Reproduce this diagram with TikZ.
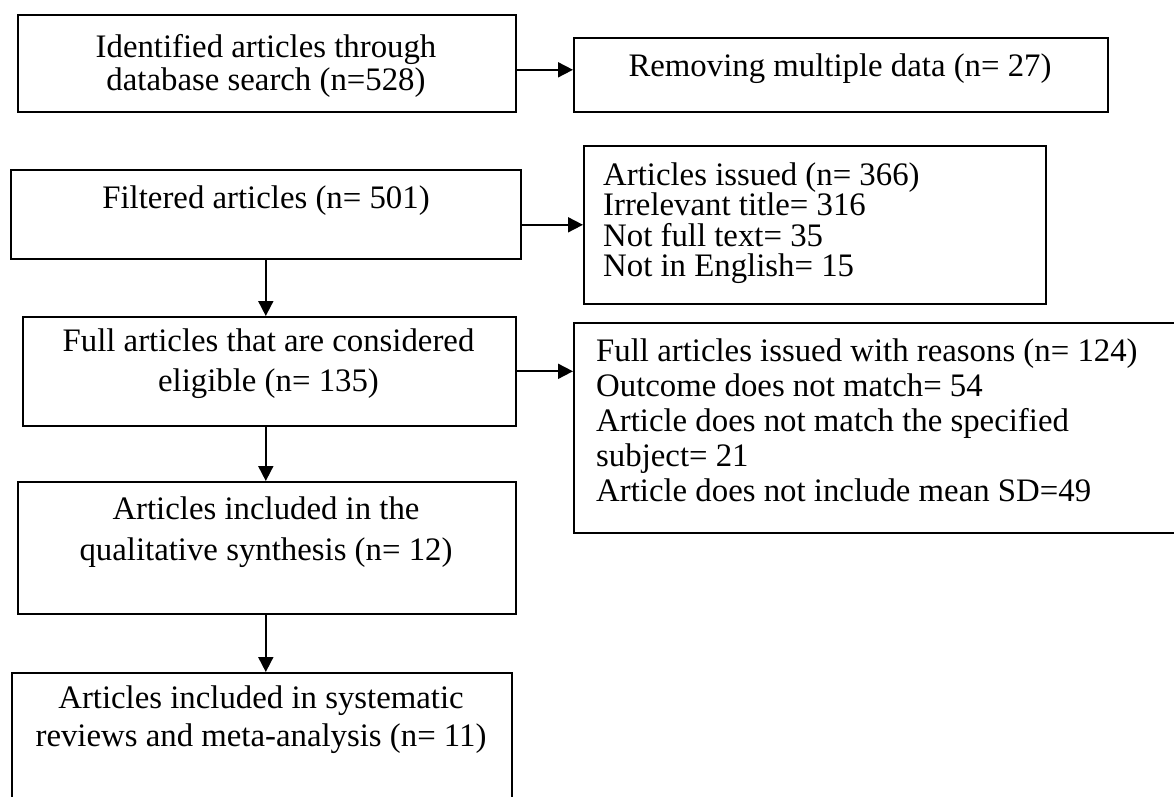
\documentclass[tikz,border=0pt]{standalone}
\usepackage{fontspec}
\setmainfont{Liberation Serif}
\usetikzlibrary{arrows.meta}
\begin{document}
\begin{tikzpicture}[x=1pt,y=-1pt,
  box/.style={draw=black, line width=1.6pt, anchor=north west, inner sep=0pt},
  txt/.style={inner sep=0pt, anchor=north, font=\fontsize{32.8}{#1}\selectfont},
  arr/.style={line width=1.8pt, -{Triangle[length=15pt,width=15pt]}}]
\clip (0,0) rectangle (1174,796);
\fill[white] (0,0) rectangle (1174,796);
% boxes
\node[box, minimum width=498pt, minimum height=97pt]  (b1) at (17,14) {};
\node[box, minimum width=534pt, minimum height=74pt]  (b2) at (573,37) {};
\node[box, minimum width=510pt, minimum height=89pt]  (b3) at (10,169) {};
\node[box, minimum width=462pt, minimum height=158pt] (b4) at (583,145) {};
\node[box, minimum width=493pt, minimum height=109pt] (b5) at (22,316) {};
\node[box, minimum width=612pt, minimum height=210pt] (b6) at (573,322) {};
\node[box, minimum width=498pt, minimum height=132pt] (b7) at (17,481) {};
\node[box, minimum width=500pt, minimum height=138pt] (b8) at (11,672) {};
% texts
\node[txt=33, align=center] (t1) at (266,33) {\rule{0pt}{24pt}Identified articles through\\database search (n=528)};
\node[txt=30] (t2) at (840,52) {\rule{0pt}{24pt}Removing multiple data (n= 27)};
\node[txt=30] (t3) at (266,184) {\rule{0pt}{24pt}Filtered articles (n= 501)};
\node[txt=30.5, align=left, anchor=north west] (t4) at (603,161) {\rule{0pt}{24pt}Articles issued (n= 366)\\Irrelevant title= 316\\Not full text= 35\\Not in English= 15};
\node[txt=40, align=center] (t5) at (268.5,327.7) {\rule{0pt}{24pt}Full articles that are considered\\eligible (n= 135)};
\node[txt=35, align=left, anchor=north west] (t6) at (596,337.7) {\rule{0pt}{24pt}Full articles issued with reasons (n= 124)\\Outcome does not match= 54\\Article does not match the specified\\subject= 21\\Article does not include mean SD=49};
\node[txt=40.7, align=center] (t7) at (266,495.3) {\rule{0pt}{24pt}Articles included in the\\qualitative synthesis (n= 12)};
\node[txt=38.5, align=center] (t8) at (261,684) {\rule{0pt}{24pt}Articles included in systematic\\reviews and meta-analysis (n= 11)};
% connectors
\draw[arr] ([yshift=5pt]b2.west -| b1.east) -- ([yshift=5pt]b2.west);
\draw[arr] (b4.west -| b3.east) -- (b4.west);
\draw[arr] (b5.east) -- (b5.east -| b6.west);
\draw[arr] (b3.south) -- (b3.south |- b5.north);
\draw[arr] (b3.south |- b5.south) -- (b3.south |- b7.north);
\draw[arr] (b3.south |- b7.south) -- (b3.south |- b8.north);
\end{tikzpicture}
\end{document}
